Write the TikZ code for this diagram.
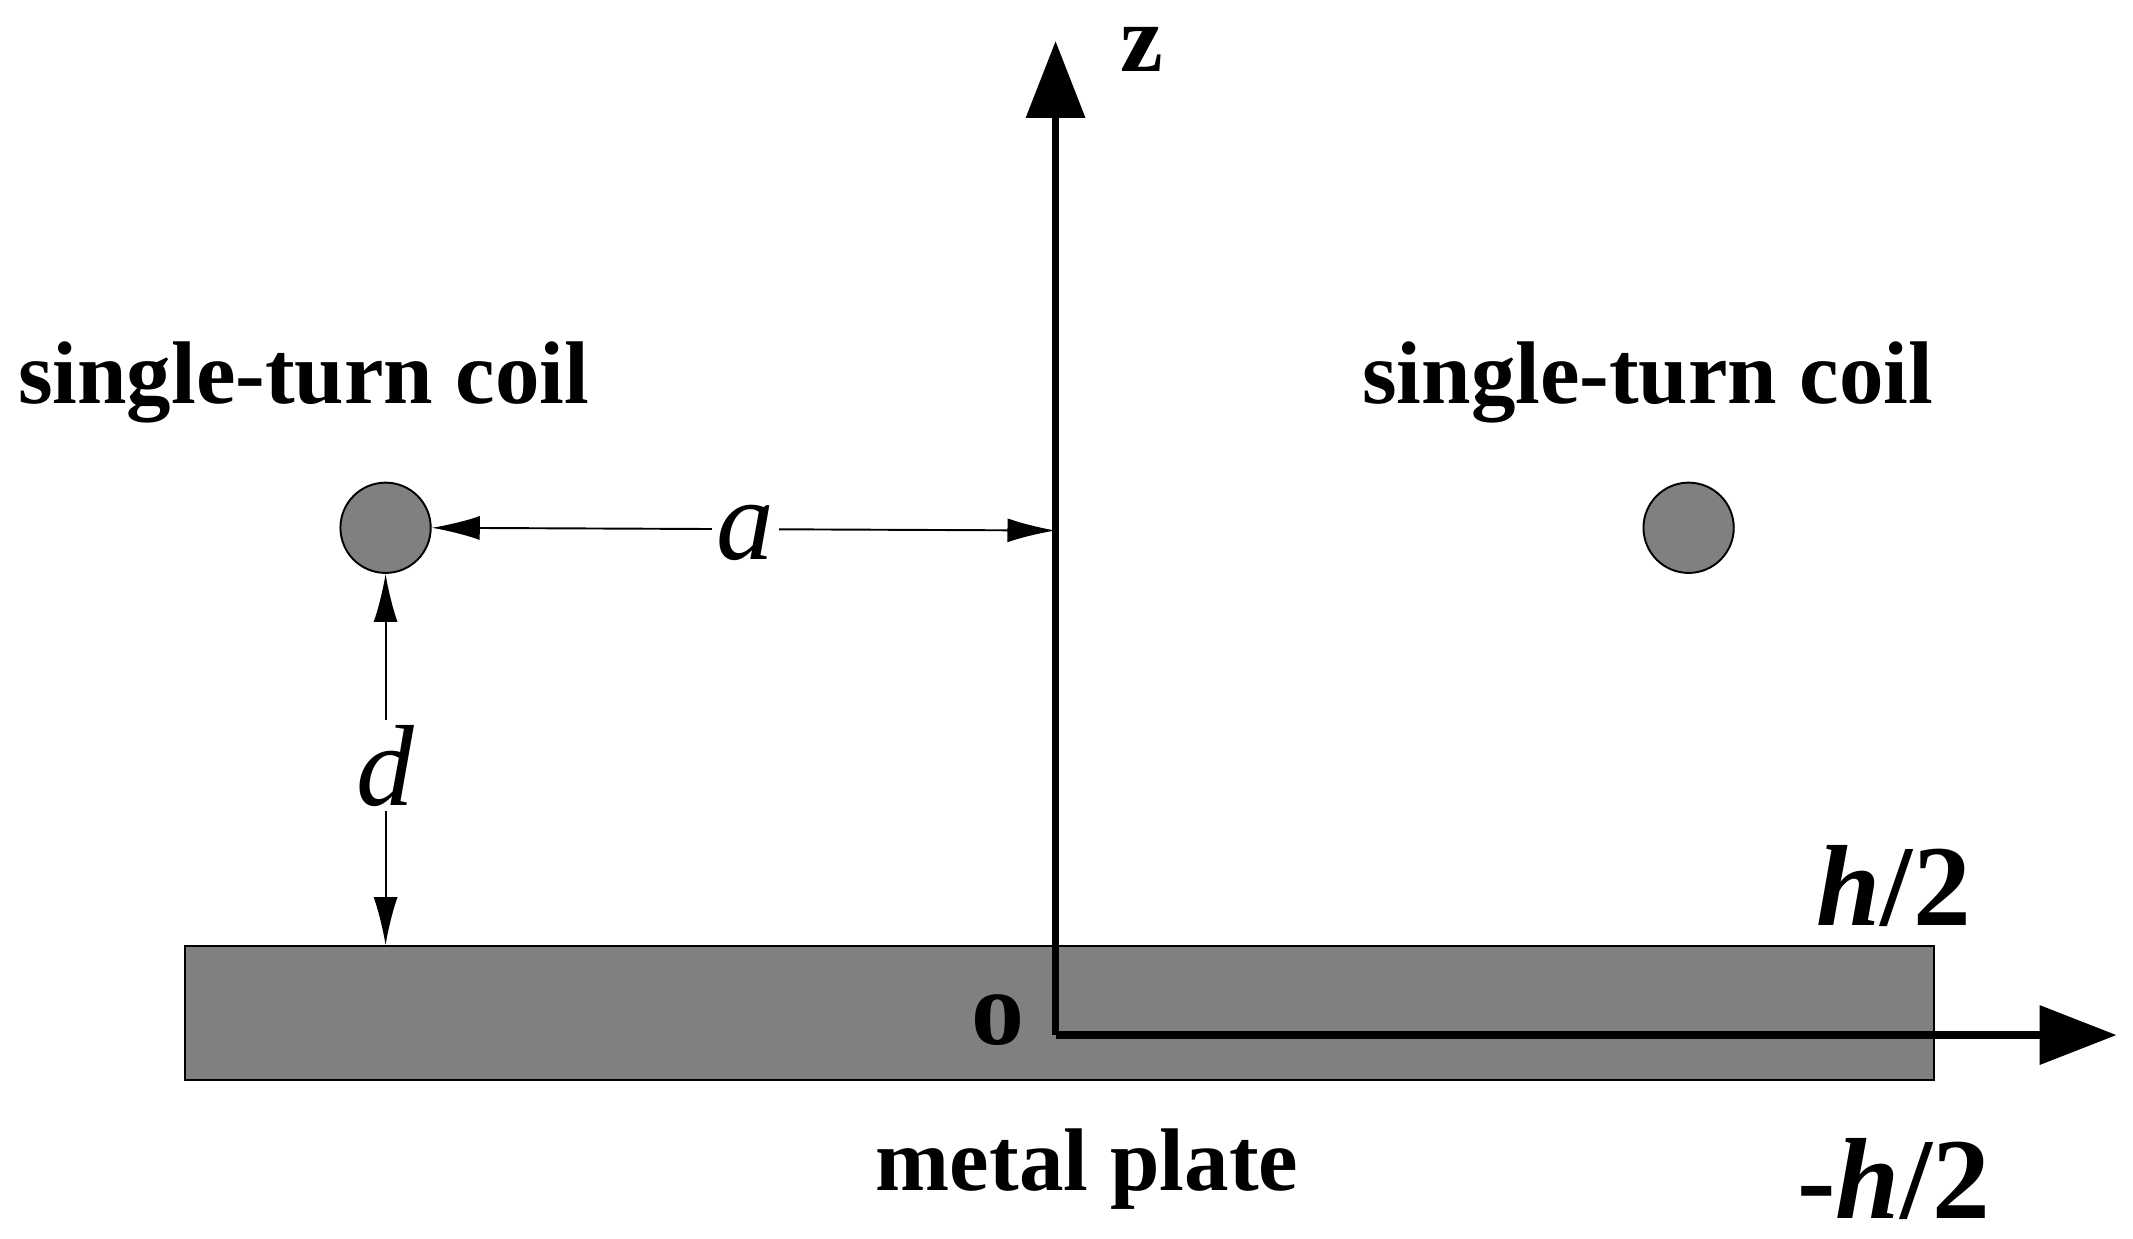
\documentclass[tikz,border=0pt]{standalone}
\usepackage{fontspec}
\setmainfont{Liberation Serif}
\usetikzlibrary{arrows.meta}
\begin{document}
\begin{tikzpicture}[x=0.01cm,y=-0.01cm,
  lbl/.style={font=\fontsize{18.5}{20}\selectfont\bfseries, inner sep=0},
  coil/.style={circle, draw=black, fill=gray, minimum size=0.66cm, inner sep=0},
  dim/.style={thin, {Latex[length=10pt,width=5pt]}-{Latex[length=10pt,width=5pt]}},
  axis/.style={line width=1.6pt, -{Triangle[length=16pt,width=12pt]}}]
\useasboundingbox (0,0) rectangle (1560,906);
\node[draw=black, fill=gray, minimum width=12.78cm, minimum height=0.98cm, inner sep=0] (plate) at (775,741) {};
\coordinate (O) at (772,757);
\coordinate (ztop) at (772,30);
\coordinate (xend) at (1548,757);
\draw[axis] (O) -- (ztop);
\draw[axis] (O) -- (xend);
\node[lbl, font=\fontsize{20}{22}\selectfont\bfseries] (z) at (835,36) {z};
\node[lbl, font=\fontsize{22}{24}\selectfont\bfseries] (o) at (730,746) {o};
\node[coil] (c1) at (282,386) {};
\node[coil] (c2) at (1235,386) {};
\node[lbl] (t1) at (222,280) {single-turn coil};
\node[lbl] (t2) at (1205,280) {single-turn coil};
\coordinate (ax) at (772,388);
\draw[dim] (c1.east) -- (ax);
\node[fill=white, inner sep=1pt, font=\fontsize{24}{26}\selectfont\itshape] (a) at (545,390) {a};
\draw[dim] (c1.south) -- (c1.south |- plate.north);
\node[fill=white, inner sep=1pt, font=\fontsize{24}{26}\selectfont\itshape] (d) at (282,560) {d};
\node[lbl, font=\fontsize{24}{26}\selectfont\bfseries] (h1) at (1385,648) {\textit{h}/2};
\node[lbl, font=\fontsize{24}{26}\selectfont\bfseries] (h2) at (1385,862) {-\textit{h}/2};
\node[lbl] (mp) at (795,855) {metal plate};
\end{tikzpicture}
\end{document}
